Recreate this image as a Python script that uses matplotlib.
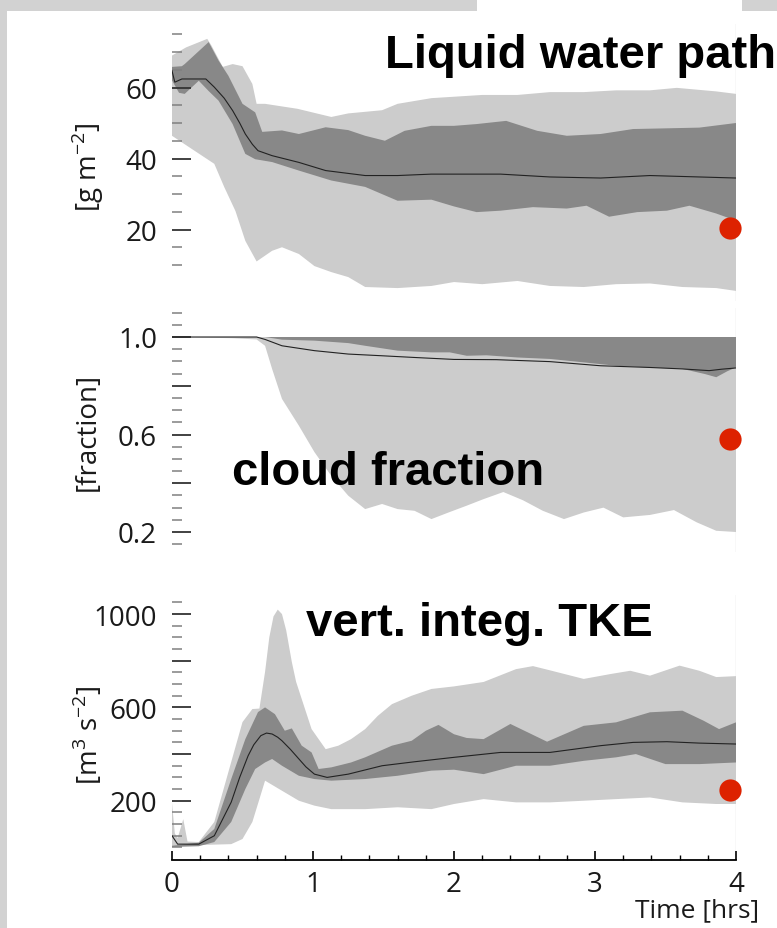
import numpy as np
import matplotlib
matplotlib.use('Agg')
import matplotlib.pyplot as plt
from matplotlib.patches import Rectangle
from matplotlib.ticker import FixedLocator, FixedFormatter

plt.rcParams['font.family'] = ['Open Sans', 'DejaVu Sans']
plt.rcParams['mathtext.fontset'] = 'custom'
plt.rcParams['mathtext.rm'] = 'Open Sans'

# --- Liquid water path [g m-2] ---
t_lwp_hi = [0, 0.10, 0.25, 0.28, 0.36, 0.43, 0.50, 0.57, 0.60, 0.66, 0.89, 1.13, 1.25, 1.49, 1.60,
            1.84, 2.0, 2.2, 2.45, 2.68, 2.92, 3.15, 3.39, 3.58, 3.86, 4.0]
lwp_hi = [69, 71.3, 73.7, 71.8, 65.8, 66.6, 66, 61, 55.4, 55.4, 54, 51.7, 52.7, 53.6, 55.4,
          57, 57.4, 57.9, 57.9, 58.7, 58.7, 59.2, 59.2, 59.9, 58.9, 58.2]
t_lwp_lo = [0, 0.14, 0.30, 0.37, 0.45, 0.52, 0.60, 0.71, 0.78, 0.90, 1.01, 1.13, 1.25, 1.37, 1.60,
            1.84, 2.0, 2.2, 2.45, 2.68, 2.92, 3.15, 3.39, 3.62, 3.86, 4.0]
lwp_lo = [46.4, 42.7, 38.5, 32, 25.2, 16.8, 11, 14, 15, 13.1, 9.7, 8, 6.6, 3.8, 3.5,
          4.1, 5.2, 4.6, 5.5, 4.1, 3.8, 4.6, 4.8, 3.8, 3.5, 2.7]
t_lwp_q3 = [0, 0.07, 0.09, 0.26, 0.33, 0.40, 0.50, 0.59, 0.64, 0.78, 0.90, 1.09, 1.25, 1.37, 1.51,
            1.65, 1.84, 2.0, 2.16, 2.37, 2.59, 2.80, 3.04, 3.27, 3.51, 3.74, 4.0]
lwp_q3 = [65.8, 66, 66.6, 72.8, 67.6, 63.3, 55.4, 53, 47.5, 47.9, 46.9, 48.8, 48, 46.4, 45,
          47.8, 49.2, 49.2, 49.7, 50.6, 47.8, 46.4, 46.9, 48.3, 48.5, 48.7, 50]
t_lwp_q1 = [0, 0.05, 0.09, 0.19, 0.26, 0.33, 0.43, 0.52, 0.59, 0.71, 0.90, 1.13, 1.37, 1.60, 1.84,
            2.0, 2.16, 2.33, 2.56, 2.80, 2.94, 3.10, 3.30, 3.51, 3.67, 3.86, 4.0]
lwp_q1 = [62, 58.5, 58.2, 61.9, 59, 56.3, 49.7, 41.3, 39.8, 39, 36.6, 33.8, 32, 28.1, 28.4,
          26.5, 24.9, 25.3, 26.3, 25.9, 26.7, 23.6, 24.9, 25.3, 26.7, 24.5, 22.5]
t_lwp_mean = [0, 0.02, 0.07, 0.24, 0.30, 0.37, 0.43, 0.48, 0.52, 0.57, 0.61, 0.71, 0.90, 1.09,
              1.37, 1.60, 1.84, 2.0, 2.33, 2.68, 3.04, 3.39, 3.74, 4.0]
lwp_mean = [64.7, 61.5, 62.4, 62.4, 60.1, 57.0, 53.5, 50.0, 46.9, 44.0, 42.2, 40.8, 38.9, 36.6,
            35.2, 35.2, 35.6, 35.6, 35.6, 34.8, 34.5, 35.2, 34.8, 34.5]
lwp_obs = (3.96, 20.5)

# --- cloud fraction ---
t_cf_hi = [0, 4.0]
cf_hi = [1.0, 1.0]
t_cf_lo = [0, 0.43, 0.60, 0.66, 0.71, 0.78, 0.90, 1.01, 1.13, 1.25, 1.37, 1.49, 1.60, 1.72, 1.84,
           1.97, 2.09, 2.21, 2.35, 2.49, 2.63, 2.78, 2.92, 3.06, 3.20, 3.39, 3.56, 3.72, 3.86, 4.0]
cf_lo = [1.0, 0.995, 0.99, 0.964, 0.869, 0.746, 0.636, 0.528, 0.43, 0.349, 0.294, 0.315, 0.294,
         0.287, 0.253, 0.282, 0.308, 0.335, 0.364, 0.33, 0.287, 0.253, 0.28, 0.3, 0.26, 0.27,
         0.29, 0.24, 0.205, 0.2]
t_cf_q3 = [0, 4.0]
cf_q3 = [1.0, 1.0]
t_cf_q1 = [0, 0.66, 0.78, 1.01, 1.25, 1.37, 1.60, 1.84, 1.97, 2.09, 2.23, 2.45, 2.68, 2.92, 3.15,
           3.39, 3.62, 3.78, 3.86, 3.94, 4.0]
cf_q1 = [1.0, 1.0, 0.989, 0.985, 0.975, 0.964, 0.944, 0.937, 0.937, 0.923, 0.925, 0.916, 0.91,
         0.896, 0.882, 0.875, 0.869, 0.848, 0.835, 0.86, 0.875]
t_cf_mean = [0, 0.6, 0.66, 0.78, 1.01, 1.25, 1.49, 1.72, 2.0, 2.3, 2.68, 3.04, 3.39, 3.62, 3.81,
             3.9, 4.0]
cf_mean = [1.0, 1.0, 0.99, 0.964, 0.944, 0.93, 0.923, 0.916, 0.908, 0.907, 0.899, 0.882, 0.875,
           0.869, 0.862, 0.868, 0.873]
cf_obs = (3.96, 0.58)

# --- vertically integrated TKE [m3 s-2] ---
t_tke_hi = [0, 0.02, 0.04, 0.08, 0.11, 0.19, 0.30, 0.42, 0.50, 0.57, 0.62, 0.66, 0.69, 0.72,
            0.75, 0.78, 0.81, 0.85, 0.88, 0.92, 0.99, 1.09, 1.18, 1.27, 1.37, 1.46, 1.56, 1.70,
            1.84, 2.0, 2.21, 2.44, 2.56, 2.68, 2.92, 3.11, 3.25, 3.39, 3.60, 3.74, 3.86, 4.0]
tke_hi = [190, 60, 40, 121, 25, 23, 109, 366, 537, 593, 595, 752, 900, 990,
          1019, 1000, 930, 794, 710, 636, 507, 421, 436, 464, 507, 564, 614, 650,
          679, 690, 709, 764, 777, 759, 722, 743, 757, 736, 779, 757, 730, 734]
t_tke_lo = [0, 0.19, 0.42, 0.50, 0.57, 0.62, 0.66, 0.76, 0.90, 1.01, 1.13, 1.37, 1.60, 1.84, 2.0,
            2.21, 2.44, 2.68, 2.92, 3.15, 3.39, 3.62, 3.86, 4.0]
tke_lo = [2, 10, 14, 36, 109, 207, 286, 250, 200, 179, 164, 164, 172, 164, 186,
          207, 193, 193, 200, 207, 214, 193, 186, 186]
t_tke_q3 = [0, 0.19, 0.30, 0.42, 0.52, 0.61, 0.66, 0.73, 0.80, 0.85, 0.92, 0.99, 1.04, 1.13, 1.27,
            1.37, 1.56, 1.70, 1.80, 1.89, 2.0, 2.09, 2.21, 2.40, 2.66, 2.92, 3.15, 3.39, 3.62,
            3.77, 3.88, 4.0]
tke_q3 = [7, 20, 79, 293, 464, 580, 600, 571, 500, 510, 436, 407, 336, 343, 364,
          386, 436, 457, 500, 525, 485, 469, 464, 529, 453, 521, 536, 579, 586,
          543, 507, 536]
t_tke_q1 = [0, 0.19, 0.30, 0.42, 0.52, 0.59, 0.66, 0.71, 0.78, 0.90, 1.01, 1.13, 1.37, 1.60, 1.84,
            2.0, 2.21, 2.44, 2.68, 2.92, 3.15, 3.29, 3.50, 3.74, 4.0]
tke_q1 = [2, 5, 23, 109, 250, 336, 364, 379, 350, 307, 293, 286, 293, 307, 329,
          333, 314, 350, 350, 371, 386, 400, 357, 357, 364]
t_tke_mean = [0, 0.04, 0.19, 0.30, 0.42, 0.48, 0.54, 0.58, 0.63, 0.67, 0.71, 0.75, 0.78, 0.84,
              0.90, 0.95, 1.01, 1.10, 1.25, 1.49, 1.72, 2.0, 2.33, 2.68, 3.04, 3.27, 3.51,
              3.74, 4.0]
tke_mean = [50, 14, 14, 50, 194, 300, 393, 440, 479, 490, 486, 472, 457, 420,
            379, 345, 314, 300, 314, 350, 367, 386, 407, 407, 436, 450, 453,
            447, 443]
tke_obs = (3.96, 245)

LIGHT = '#cccccc'
DARK = '#888888'
RED = '#dd2200'

W, H = 777, 929
fig = plt.figure(figsize=(W / 100, H / 100), dpi=100, facecolor='#d2d2d2')

# white sheet behind the plots
fig.add_artist(Rectangle((7 / W, 0), 770 / W, 1 - 12 / H, transform=fig.transFigure,
                         facecolor='white', edgecolor='none', zorder=-10))
fig.add_artist(Rectangle((477 / W, 1 - 12 / H), 265 / W, 12 / H, transform=fig.transFigure,
                         facecolor='white', edgecolor='none', zorder=-10))


def px_axes(left, top, right, bottom):
    return fig.add_axes([left / W, 1 - bottom / H, (right - left) / W, (bottom - top) / H])


def band(ax, t_hi, hi, t_lo, lo, color):
    xs = list(t_hi) + list(t_lo)[::-1]
    ys = list(hi) + list(lo)[::-1]
    ax.fill(xs, ys, color=color, lw=0)


def panel(ax, data, ylim, majors, labels, minors, obs):
    t_hi, hi, t_lo, lo, t_q3, q3, t_q1, q1, t_m, m = data
    ax.set_facecolor('none')
    ax.axvline(4.0, color='#dddddd', lw=1, zorder=0)
    band(ax, t_hi, hi, t_lo, lo, LIGHT)
    band(ax, t_q3, q3, t_q1, q1, DARK)
    ax.plot(t_m, m, color='#222222', lw=0.8)
    ax.plot(*obs, 'o', color=RED, ms=16, mec='none', clip_on=False, zorder=5)
    ax.set_xlim(0, 4)
    ax.set_ylim(*ylim)
    for s in ['top', 'right', 'left', 'bottom']:
        ax.spines[s].set_visible(False)
    ax.yaxis.set_major_locator(FixedLocator(majors))
    ax.yaxis.set_major_formatter(FixedFormatter(labels))
    ax.yaxis.set_minor_locator(FixedLocator(minors))
    ax.tick_params(axis='y', which='major', direction='in', length=13.7, width=1.3,
                   color='#333333', pad=10.8, labelsize=20, labelcolor='#1a1a1a')
    ax.tick_params(axis='y', which='minor', direction='in', length=7.2, width=1.1,
                   color='#808080')
    ax.set_xticks([])


ax1 = px_axes(172, 24.6, 736, 301.5)
panel(ax1, (t_lwp_hi, lwp_hi, t_lwp_lo, lwp_lo, t_lwp_q3, lwp_q3, t_lwp_q1, lwp_q1,
            t_lwp_mean, lwp_mean),
      (0, 78), [20, 40, 60], ['20', '40', '60'], np.arange(10, 76, 5), lwp_obs)

ax2 = px_axes(172, 308.75, 736, 552.5)
panel(ax2, (t_cf_hi, cf_hi, t_cf_lo, cf_lo, t_cf_q3, cf_q3, t_cf_q1, cf_q1, t_cf_mean, cf_mean),
      (0.12, 1.12), [0.2, 0.4, 0.6, 0.8, 1.0], ['0.2', '', '0.6', '', '1.0'],
      np.arange(0.15, 1.11, 0.05), cf_obs)

ax3 = px_axes(172, 596.4, 736, 861)
panel(ax3, (t_tke_hi, tke_hi, t_tke_lo, tke_lo, t_tke_q3, tke_q3, t_tke_q1, tke_q1,
            t_tke_mean, tke_mean),
      (-54, 1080), [200, 400, 600, 800, 1000], ['200', '', '600', '', '1000'],
      np.arange(0, 1051, 50), tke_obs)

# time axis on the bottom panel only
ax3.spines['bottom'].set_visible(True)
ax3.spines['bottom'].set_color('black')
ax3.spines['bottom'].set_linewidth(1.3)
ax3.set_xticks([0, 1, 2, 3, 4])
ax3.set_xticklabels(['0', '1', '2', '3', '4'])
ax3.set_xticks(np.arange(0, 4.01, 0.2), minor=True)
ax3.tick_params(axis='x', which='major', direction='in', length=6.5, width=1.2,
                color='black', pad=7, labelsize=20, labelcolor='#1a1a1a')
ax3.tick_params(axis='x', which='minor', direction='in', length=3.6, width=1.0, color='black')

# axis units
fig.text(88 / W, 1 - 167 / H, r'[g m$^{\mathregular{-2}}$]', rotation=90, ha='center',
         va='center', fontsize=20, color='#1a1a1a')
fig.text(88 / W, 1 - 432 / H, '[fraction]', rotation=90, ha='center', va='center',
         fontsize=20, color='#1a1a1a')
fig.text(88 / W, 1 - 735 / H, r'[m$^{\mathregular{3}}$ s$^{\mathregular{-2}}$]', rotation=90,
         ha='center', va='center', fontsize=20, color='#1a1a1a')
fig.text(697 / W, 1 - 911 / H, 'Time [hrs]', ha='center', va='center', fontsize=19,
         color='#1a1a1a')

# panel titles
title_kw = dict(family='Liberation Sans', weight='bold', fontsize=34, color='black',
                ha='left', va='baseline')
fig.text(385 / W, 1 - 68 / H, 'Liquid water path', **title_kw)
fig.text(232 / W, 1 - 485 / H, 'cloud fraction', **title_kw)
fig.text(306 / W, 1 - 636 / H, 'vert. integ. TKE', **title_kw)

fig.savefig('out.png', dpi=100, facecolor=fig.get_facecolor())
